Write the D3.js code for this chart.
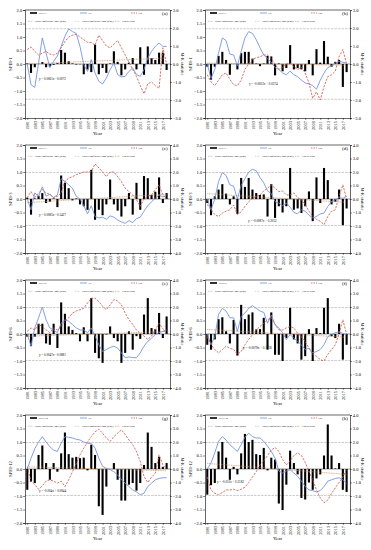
<!DOCTYPE html>
<html><head><meta charset="utf-8">
<script src="https://cdn.jsdelivr.net/npm/d3@7"></script>
<style>html,body{margin:0;padding:0;background:#fff;} svg{display:block;}</style>
</head><body>
<svg id="chart" width="371" height="550"></svg>
<script>
const years = [1981,1982,1983,1984,1985,1986,1987,1988,1989,1990,1991,1992,1993,1994,1995,1996,1997,1998,1999,2000,2001,2002,2003,2004,2005,2006,2007,2008,2009,2010,2011,2012,2013,2014,2015,2016,2017,2018];
const yearTickLabels = [1981,1983,1985,1987,1989,1991,1993,1995,1997,1999,2001,2003,2005,2007,2009,2011,2013,2015,2017];
const panelTags = ["(a)","(b)","(c)","(d)","(e)","(f)","(g)","(h)"];
const indexNames = ["SPEI-1","SPEI-1","SPEI-3","SPEI-3","SPEI-6","SPEI-6","SPEI-12","SPEI-12"];
const mkLimits = [3,3,4,4,4,4,4,4];
const leftTicks = [-2,-1.5,-1,-0.5,0,0.5,1,1.5,2];
const rightTicks3 = [-3,-2,-1,0,1,2,3];
const rightTicks4 = [-4,-3,-2,-1,0,1,2,3,4];
const confLimit = 1.96;

const barsA = [0.02,-0.33,-0.12,0.0,0.07,-0.12,-0.1,-0.03,0.03,0.52,0.42,0.1,0.02,-0.02,-0.01,-0.38,-0.2,-0.3,0.72,-0.38,-0.15,-0.33,0.02,0.47,0.08,-0.42,-0.2,0.05,0.22,-0.2,0.62,-0.4,0.65,0.22,0.15,0.42,0.42,-0.22];
const ufA = [0,-1.15,-1.3,0.05,1.45,0.6,-0.2,0.15,0.45,0.98,1.54,1.95,1.8,1.7,0.98,-0.04,-0.41,0.24,-0.5,-0.96,-1.11,-0.78,-0.31,0.06,-0.59,-0.72,-0.69,-0.41,-0.22,-0.59,-0.69,-0.31,0.33,0.7,0.98,1.17,0.98,0.98];
const ubA = [0.8,0.95,0.7,0.5,0.6,0.7,0.55,0.5,0.6,0.9,1.25,1.5,1.6,1.65,1.5,1.35,1.2,1.2,1.05,1.6,1.3,1.0,0.9,1.1,1.3,0.9,0.5,0.1,-0.3,-0.7,-1.2,-1.65,-1.1,-1.0,-1.2,-1.35,0.9,0.0];

const barsB = [-0.1,-0.58,-0.1,0.3,0.45,0.15,-0.4,0.0,-0.2,0.4,0.45,0.45,0.2,0.02,-0.08,0.02,0.3,0.28,-0.42,0.02,-0.27,-0.15,0.7,-0.2,-0.15,-0.2,-0.27,0.15,-0.42,0.55,0.05,0.85,0.27,-0.1,0.08,0.15,-0.85,-0.3];
const ufB = [0,-0.8,-0.3,0.6,1.45,1.3,0.55,0.5,-0.1,0.7,1.45,1.8,1.7,1.35,0.9,0.5,0.3,0.1,-0.2,-0.3,-0.5,-0.6,-0.4,-0.6,-0.7,-0.9,-1.05,-1.1,-1.2,-1.4,-0.9,-0.5,-0.2,-0.1,0.05,0.15,0.1,0.05];
const ubB = [-0.6,-1.0,-1.2,-0.9,-0.6,-0.5,-0.85,-1.15,-1.2,-0.9,-0.3,0.0,0.25,0.35,0.4,0.5,0.5,0.3,0.0,-0.3,-0.2,0.0,0.05,-0.15,-0.3,-0.2,-0.5,-1.05,-1.9,-1.55,-2.0,-1.25,-0.7,-0.6,-0.4,0.4,0.8,0.0];

const barsC = [0.05,-0.58,0.02,0.12,0.22,-0.15,-0.1,0.02,-0.3,0.87,0.6,0.4,-0.05,0.02,-0.2,-0.27,-0.4,1.08,-0.77,-0.4,-0.6,-0.2,0.72,-0.2,-0.43,-0.65,-0.27,0.22,-0.58,0.6,-0.4,0.85,0.77,0.15,0.27,0.8,-0.15,0.22];
const ufC = [0,-0.8,0.45,0.2,0.9,0.2,0.35,0.1,0.3,1.5,1.3,1.05,0.8,0.2,0.0,-0.5,-1.1,-0.5,-1.3,-1.4,-1.35,-1.5,-1.25,-1.35,-1.55,-1.7,-1.8,-1.6,-1.75,-1.45,-1.35,-0.9,-0.5,-0.2,0.05,0.3,0.15,0.3];
const ubC = [0.1,0.55,0.1,0.45,0.7,0.45,0.35,0.1,0.2,0.45,1.3,1.55,1.65,1.8,1.9,2.0,2.0,2.05,2.6,2.3,2.0,1.65,2.0,2.0,1.65,1.3,0.8,0.55,0.3,-0.05,-0.55,0.0,0.2,0.3,0.7,1.05,0.3,0.0];

const barsD = [-0.15,-0.6,0.1,0.35,0.55,0.2,-0.2,0.1,-0.55,0.78,0.45,0.78,0.35,0.22,0.15,0.17,-0.65,0.55,-0.7,-0.27,-0.5,-0.27,1.15,-0.4,-0.35,-0.52,-0.27,0.28,-0.82,0.8,-0.15,1.15,0.7,-0.2,-0.1,0.35,-0.97,-0.35];
const ufD = [0,-0.8,0.0,1.3,1.95,1.75,1.05,0.95,0.0,1.0,1.5,2.0,2.2,2.1,1.6,1.2,0.6,0.4,-0.2,-0.3,-0.5,-0.3,-0.6,-1.0,-1.1,-0.8,-0.9,-1.2,-1.4,-1.3,-1.1,-1.05,-0.55,-0.2,-0.05,0.1,0.05,0.2];
const ubD = [-0.4,-0.8,-1.15,-1.3,-1.05,-0.9,-0.8,-0.45,-1.15,-0.95,-0.55,-0.2,0.05,0.2,0.3,0.6,0.8,1.05,0.8,0.55,0.6,0.3,0.3,0.45,0.1,-0.05,-0.4,-0.9,-1.3,-1.5,-1.65,-1.9,-1.3,-0.9,-0.8,0.2,1.05,0.0];

const barsE = [-0.1,-0.45,-0.1,0.38,0.38,-0.35,-0.4,0.38,-0.52,1.17,0.75,0.28,0.15,0.03,-0.27,0.25,-0.27,1.33,-0.7,-0.9,-1.07,-0.02,0.28,-0.15,-0.27,-1.07,-0.7,0.1,-0.58,-0.08,-0.18,0.72,1.33,0.22,0.18,0.78,-0.15,0.65];
const ufE = [0,-0.9,0.45,1.2,2.0,1.05,0.45,0.3,0.1,0.8,1.05,0.95,0.7,0.45,0.3,0.3,0.1,0.45,-0.15,-0.8,-1.3,-1.15,-1.0,-0.9,-1.05,-1.4,-1.75,-1.7,-1.75,-1.75,-1.4,-0.9,-0.55,-0.3,-0.05,0.1,0.2,0.3];
const ubE = [0.2,0.45,0.3,0.7,0.55,0.3,0.1,0.45,0.3,0.55,0.95,1.2,1.55,1.7,1.8,1.9,2.3,2.65,2.65,2.4,2.05,1.8,2.15,2.55,2.45,2.15,1.55,1.05,0.7,0.3,0.05,-0.15,-0.4,-0.15,0.3,0.8,0.4,0.0];

const barsF = [-0.4,-0.58,-0.2,0.55,0.62,0.1,-0.35,0.52,-0.8,1.08,0.55,0.72,0.8,0.17,0.18,0.6,-0.58,0.8,-0.77,-0.77,-1.0,-0.15,0.97,-0.2,-0.35,-0.95,-0.82,0.18,-1.0,0.22,0.03,0.97,1.33,-0.08,-0.15,0.38,-0.95,-0.4];
const ufF = [0,-0.8,-0.2,1.45,1.9,1.7,1.2,1.2,0.2,1.3,1.55,1.9,2.1,1.9,1.7,1.6,0.8,1.4,0.7,0.45,0.1,-0.4,-0.05,-0.3,-0.55,-0.8,-1.15,-1.05,-1.4,-1.3,-1.15,-0.8,-0.2,-0.05,0.1,0.15,0.05,-0.05];
const ubF = [-0.2,-0.8,-1.15,-1.4,-1.15,-0.9,-1.05,-1.15,-1.5,-1.3,-0.8,-0.4,-0.05,0.3,0.55,0.8,1.05,1.2,0.7,0.3,0.3,0.45,0.55,0.45,0.05,-0.2,-0.55,-1.05,-1.5,-1.65,-1.9,-2.0,-1.5,-1.15,-0.8,0.05,1.05,0.0];

const barsG = [-0.77,-0.47,-0.52,0.52,0.87,0.22,-0.4,0.22,-0.1,0.58,1.35,0.55,0.42,0.45,0.4,0.42,-0.05,0.9,0.52,-1.38,-1.7,-0.65,0.0,0.22,-0.4,-1.17,-1.17,-0.58,-0.52,-0.8,-0.52,0.15,1.35,0.82,0.22,0.45,0.08,0.22];
const ufG = [0,0.8,1.5,2.0,2.4,2.0,1.65,1.4,1.3,1.9,2.4,2.35,2.3,2.2,2.15,2.0,1.9,1.9,1.55,0.8,0.2,0.05,-0.05,-0.2,-0.45,-0.8,-1.05,-1.3,-1.55,-1.7,-1.9,-1.8,-1.3,-1.05,-0.8,-0.7,-0.65,-0.65];
const ubG = [0.15,-0.9,-1.15,-1.5,-1.25,-0.9,-0.8,-0.9,-1.05,-0.9,-1.3,-0.8,-0.2,0.4,1.05,1.55,2.0,2.4,2.75,2.95,2.65,2.3,2.05,2.4,2.65,2.9,2.55,2.15,1.8,1.3,0.55,-0.55,-1.0,-0.6,-0.3,1.05,0.3,0.0];

const barsH = [-0.95,-0.6,-0.52,0.65,1.0,0.42,-0.4,0.08,-0.2,0.58,1.3,1.0,1.08,0.55,0.52,0.78,-0.05,0.42,0.35,-1.28,-1.52,-0.58,0.68,0.22,-0.2,-1.07,-1.13,-0.5,-0.77,-0.35,-0.2,0.5,1.65,0.5,0.02,0.22,-0.77,-0.85];
const ufH = [0,0.45,1.2,2.05,2.4,2.15,1.8,1.55,1.3,1.8,2.35,2.65,2.4,2.3,2.3,2.05,1.7,1.3,0.8,-0.15,-0.3,-0.15,-0.05,-0.3,-0.55,-0.9,-1.3,-1.55,-1.6,-1.7,-1.6,-1.3,-0.9,-0.8,-0.7,-0.65,-0.8,-1.05];
const ubH = [-0.6,-1.55,-1.8,-1.9,-1.75,-1.55,-1.55,-1.5,-1.6,-1.5,-1.35,-1.0,-0.6,-0.2,0.3,0.6,1.0,1.4,1.6,1.3,0.7,0.3,0.6,1.0,1.2,1.0,0.5,-0.2,-0.8,-1.55,-2.15,-2.5,-2.3,-1.8,-1.4,-1.0,-0.6,0.0];

const trendSlopes = [0.0061,-0.0022,0.0085,-0.0087,0.0047,-0.0078,-0.004,-0.011];
const trendIntercepts = [-0.0072,0.0374,-0.1427,0.2052,-0.0881,0.1758,0.0844,0.2182];
const equationLabels = ["y = 0.0061x - 0.0072","y = -0.0022x + 0.0374","y = 0.0085x - 0.1427","y = -0.0087x + 0.2052","y = 0.0047x - 0.0881","y = -0.0078x + 0.1758","y = -0.004x + 0.0844","y = -0.011x + 0.2182"];

const allBars = [barsA,barsB,barsC,barsD,barsE,barsF,barsG,barsH];
const allUF = [ufA,ufB,ufC,ufD,ufE,ufF,ufG,ufH];
const allUB = [ubA,ubB,ubC,ubD,ubE,ubF,ubG,ubH];

// layout (not data)
const eqPos = [[14,-0.55],[44,-0.75],[14,-0.58],[43,-0.8],[14,-0.78],[38,-0.52],[14,-0.8],[12,-0.47]];
const FONT = "'Liberation Serif','Times New Roman',serif";
const C_UF = "#6f8fdc", C_UB = "#d0574a", C_CONF = "#a8a8a8", C_TREND = "#c98a55";

const svg = d3.select("#chart").style("font-family", FONT);

for (let p = 0; p < 8; p++) {
  const col = p % 2, row = Math.floor(p / 2);
  const ox = col * 180, oy = row * 135;
  const L = ox + 25, R = ox + 170, T = oy + 10, B = oy + 118;
  const g = svg.append("g");
  const x = d3.scaleLinear().domain([1980.4, 2018.9]).range([L, R]);
  const yL = d3.scaleLinear().domain([-2, 2]).range([B, T]);
  const mk = mkLimits[p];
  const yR = d3.scaleLinear().domain([-mk, mk]).range([B, T]);
  const bars = allBars[p], uf = allUF[p], ub = allUB[p];

  [confLimit, -confLimit].forEach(v => {
    g.append("line").attr("x1", L).attr("x2", R).attr("y1", yR(v)).attr("y2", yR(v))
      .attr("stroke", C_CONF).attr("stroke-width", 0.6).attr("stroke-dasharray", "2.5,1");
  });

  g.append("line").attr("x1", L).attr("x2", R).attr("y1", yL(0)).attr("y2", yL(0))
    .attr("stroke", "#333").attr("stroke-width", 0.5);

  g.selectAll("rect.bar").data(bars).enter().append("rect")
    .attr("x", (d, i) => x(years[i]) - 1.05)
    .attr("width", 2.1)
    .attr("y", d => Math.min(yL(d), yL(0)))
    .attr("height", d => Math.abs(yL(d) - yL(0)))
    .attr("fill", "#000");

  const n = years.length;
  g.append("line")
    .attr("x1", x(years[0])).attr("y1", yL(trendSlopes[p] * 1 + trendIntercepts[p]))
    .attr("x2", x(years[n - 1])).attr("y2", yL(trendSlopes[p] * n + trendIntercepts[p]))
    .attr("stroke", C_TREND).attr("stroke-width", 0.7).attr("stroke-dasharray", "1,0.7");

  g.append("path").datum(uf)
    .attr("d", d3.line().x((d, i) => x(years[i])).y(d => yR(d)))
    .attr("fill", "none").attr("stroke", C_UF).attr("stroke-width", 0.85);

  g.append("path").datum(ub)
    .attr("d", d3.line().x((d, i) => x(years[i])).y(d => yR(d)))
    .attr("fill", "none").attr("stroke", C_UB).attr("stroke-width", 0.85).attr("stroke-dasharray", "2.2,1.3");

  const axL = g.append("g").attr("transform", `translate(${L},0)`)
    .call(d3.axisLeft(yL).tickValues(leftTicks).tickFormat(d3.format(".1f")).tickSize(1.8).tickPadding(1));
  const axR = g.append("g").attr("transform", `translate(${R},0)`)
    .call(d3.axisRight(yR).tickValues(mk === 3 ? rightTicks3 : rightTicks4).tickFormat(d3.format(".1f")).tickSize(1.8).tickPadding(1));
  const axB = g.append("g").attr("transform", `translate(0,${B})`)
    .call(d3.axisBottom(x).tickValues(yearTickLabels).tickFormat(d => String(d)).tickSize(1.8));
  axB.selectAll("text").attr("transform", "rotate(-90)").attr("x", -3).attr("y", 0)
    .attr("dy", "0.35em").style("text-anchor", "end");
  [axL, axR, axB].forEach(a => {
    a.selectAll("path.domain").attr("stroke-width", 0.6);
    a.selectAll("line").attr("stroke-width", 0.5);
    a.selectAll("text").style("font-family", FONT).style("font-size", "4.5px");
  });
  g.append("line").attr("x1", L).attr("x2", R).attr("y1", T).attr("y2", T)
    .attr("stroke", "#000").attr("stroke-width", 0.6);

  g.append("text").attr("transform", `translate(${ox + 11.5},${(T + B) / 2}) rotate(-90)`)
    .attr("text-anchor", "middle").style("font-size", "4.6px").text(indexNames[p]);
  g.append("text").attr("transform", `translate(${ox + 181},${(T + B) / 2}) rotate(90)`)
    .attr("text-anchor", "middle").style("font-size", "4.4px").text("M-K statistic");
  g.append("text").attr("x", (L + R) / 2).attr("y", oy + 135)
    .attr("text-anchor", "middle").style("font-size", "5px").text("Year");

  g.append("text").attr("x", L + eqPos[p][0]).attr("y", yL(eqPos[p][1]))
    .attr("dy", "0.35em").style("font-size", "3.2px").text(equationLabels[p]);

  const r1 = T + 3, r2 = T + 11.3, fs = "2.6px";
  g.append("rect").attr("x", L + 5).attr("y", r1 - 0.8).attr("width", 7).attr("height", 1.6).attr("fill", "#000");
  g.append("text").attr("x", L + 14).attr("y", r1).attr("dy", "0.35em").style("font-size", fs).text(indexNames[p]);
  g.append("line").attr("x1", L + 55).attr("x2", L + 62).attr("y1", r1).attr("y2", r1).attr("stroke", C_UF).attr("stroke-width", 0.8);
  g.append("text").attr("x", L + 63.5).attr("y", r1).attr("dy", "0.35em").style("font-size", fs).text("UF");
  g.append("line").attr("x1", L + 106).attr("x2", L + 112).attr("y1", r1).attr("y2", r1).attr("stroke", C_UB).attr("stroke-width", 0.8).attr("stroke-dasharray", "1.5,1");
  g.append("text").attr("x", L + 113.5).attr("y", r1).attr("dy", "0.35em").style("font-size", fs).text("UB");
  g.append("text").attr("x", L + 137).attr("y", r1 + 0.3).attr("dy", "0.35em").style("font-size", "5px").text(panelTags[p]);

  const leg2 = [
    {x: L + 3, t: "Upper confidence limit (0.05)", c: C_CONF, dash: "1.5,0.8"},
    {x: L + 50, t: "Lower confidence limit (0.05)", c: C_CONF, dash: "0.8,0.8"},
    {x: L + 90, t: "Linear trend", c: C_TREND, dash: "1,0.6"}
  ];
  leg2.forEach(o => {
    g.append("line").attr("x1", o.x).attr("x2", o.x + 5).attr("y1", r2).attr("y2", r2)
      .attr("stroke", o.c).attr("stroke-width", 0.6).attr("stroke-dasharray", o.dash);
    g.append("text").attr("x", o.x + 7).attr("y", r2).attr("dy", "0.35em").style("font-size", fs).text(o.t);
  });
}
</script>
</body></html>
